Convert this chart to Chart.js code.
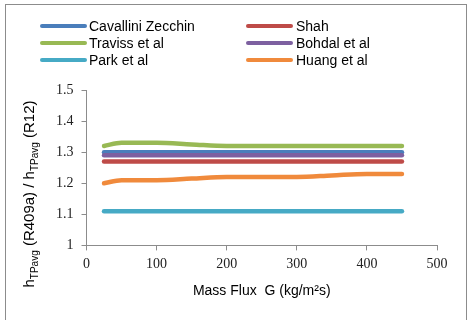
<!DOCTYPE html>
<html><head><meta charset="utf-8">
<script src="https://cdn.jsdelivr.net/npm/chart.js@4.4.1/dist/chart.umd.min.js"></script>
<style>
html,body{margin:0;padding:0;background:#fff;}
#wrap{position:relative;width:468px;height:320px;}
</style></head>
<body><div id="wrap"><canvas id="c" width="468" height="320"></canvas></div>
<script>
const massFlux = [25, 50, 100, 150, 200, 250, 300, 350, 400, 450];
const cavalliniZecchin = [1.30, 1.30, 1.30, 1.30, 1.30, 1.30, 1.30, 1.30, 1.30, 1.30];
const shah = [1.27, 1.27, 1.27, 1.27, 1.27, 1.27, 1.27, 1.27, 1.27, 1.27];
const travissEtAl = [1.32, 1.33, 1.33, 1.325, 1.32, 1.32, 1.32, 1.32, 1.32, 1.32];
const bohdalEtAl = [1.29, 1.29, 1.29, 1.29, 1.29, 1.29, 1.29, 1.29, 1.29, 1.29];
const parkEtAl = [1.11, 1.11, 1.11, 1.11, 1.11, 1.11, 1.11, 1.11, 1.11, 1.11];
const huangEtAl = [1.20, 1.21, 1.21, 1.215, 1.22, 1.22, 1.22, 1.225, 1.23, 1.23];
const seriesNames = ["Cavallini Zecchin", "Shah", "Traviss et al", "Bohdal et al", "Park et al", "Huang et al"];
const seriesColors = ["#4a7ebb", "#be4b48", "#98b954", "#7d60a0", "#46aac5", "#f08a3c"];
const xTicks = [0, 100, 200, 300, 400, 500];
const yTicks = [1, 1.1, 1.2, 1.3, 1.4, 1.5];

const seriesValues = [cavalliniZecchin, shah, travissEtAl, bohdalEtAl, parkEtAl, huangEtAl];
const drawOrder = [4, 5, 1, 3, 0, 2];
const datasets = drawOrder.map(i => ({
  label: seriesNames[i],
  data: massFlux.map((x, k) => ({x: x, y: seriesValues[i][k]})),
  borderColor: seriesColors[i],
  backgroundColor: seriesColors[i],
  borderWidth: 4.5,
  pointRadius: 0,
  tension: 0.4,
  cubicInterpolationMode: 'monotone',
  borderCapStyle: 'round',
  fill: false
}));

const serifFont = "'Liberation Serif', 'Times New Roman', serif";
const sansFont = "'Liberation Sans', Arial, sans-serif";
Chart.defaults.font.family = serifFont;

const frameAndLegend = {
  id: 'frameAndLegend',
  beforeDraw(chart) {
    const ctx = chart.ctx;
    ctx.save();
    ctx.strokeStyle = '#8c8c8c';
    ctx.lineWidth = 1;
    ctx.strokeRect(5.5, 4.5, 461, 330);
    ctx.restore();
  },
  afterDraw(chart) {
    const ctx = chart.ctx;
    ctx.save();
    const cols = [{lx: 42, tx: 89}, {lx: 248, tx: 296}];
    const rows = [26, 43, 60];
    ctx.font = '14px ' + sansFont;
    ctx.textBaseline = 'middle';
    seriesNames.forEach((name, i) => {
      const c = cols[i % 2], y = rows[Math.floor(i / 2)];
      ctx.strokeStyle = seriesColors[i];
      ctx.lineWidth = 4;
      ctx.lineCap = 'round';
      ctx.beginPath();
      ctx.moveTo(c.lx, y);
      ctx.lineTo(c.lx + 43, y);
      ctx.stroke();
      ctx.fillStyle = '#000';
      ctx.fillText(name, c.tx, y + 1);
    });
    const parts = [
      {t: 'h', f: '15px ' + sansFont, dy: 0},
      {t: 'TPavg', f: '10px ' + sansFont, dy: 4},
      {t: ' (R409a) / h', f: '15px ' + sansFont, dy: 0},
      {t: 'TPavg', f: '10px ' + sansFont, dy: 4},
      {t: ' (R12)', f: '15px ' + sansFont, dy: 0}
    ];
    let total = 0;
    parts.forEach(p => { ctx.font = p.f; p.w = ctx.measureText(p.t).width; total += p.w; });
    ctx.translate(34, 194);
    ctx.rotate(-Math.PI / 2);
    ctx.fillStyle = '#000';
    ctx.textBaseline = 'alphabetic';
    let x = -total / 2;
    parts.forEach(p => { ctx.font = p.f; ctx.fillText(p.t, x, p.dy); x += p.w; });
    ctx.restore();
  }
};

new Chart(document.getElementById('c'), {
  type: 'line',
  data: {datasets: datasets},
  options: {
    responsive: false,
    animation: false,
    devicePixelRatio: 1,
    layout: {padding: {left: 48, top: 90, right: 31, bottom: 20}},
    plugins: {legend: {display: false}, tooltip: {enabled: false}},
    scales: {
      x: {
        type: 'linear', min: 0, max: 500,
        afterBuildTicks: s => { s.ticks = xTicks.map(v => ({value: v})); },
        ticks: {color: '#222', font: {family: serifFont, size: 14}, padding: 6, maxRotation: 0},
        grid: {display: true, drawOnChartArea: false, drawTicks: true, tickLength: 5, color: '#8c8c8c'},
        border: {display: true, color: '#8c8c8c', width: 1},
        title: {display: true, text: 'Mass Flux  G (kg/m\u00b2s)', color: '#000', font: {family: sansFont, size: 14}, padding: {top: 4, bottom: 0}}
      },
      y: {
        type: 'linear', min: 1, max: 1.5,
        afterBuildTicks: s => { s.ticks = yTicks.map(v => ({value: v})); },
        ticks: {color: '#222', font: {family: serifFont, size: 14}, padding: 8, callback: v => String(Math.round(v * 10) / 10)},
        grid: {display: true, drawOnChartArea: false, drawTicks: true, tickLength: 5, color: '#8c8c8c'},
        border: {display: true, color: '#8c8c8c', width: 1}
      }
    }
  },
  plugins: [frameAndLegend]
});
</script></body></html>
